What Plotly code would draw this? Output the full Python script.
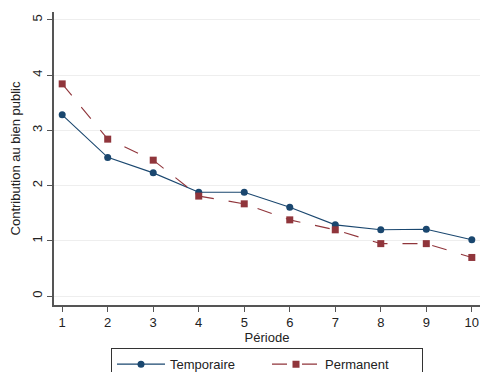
import plotly.graph_objects as go

periods = [1, 2, 3, 4, 5, 6, 7, 8, 9, 10]
temporaire = [3.28, 2.51, 2.23, 1.88, 1.88, 1.61, 1.29, 1.20, 1.21, 1.02]
permanent = [3.84, 2.84, 2.46, 1.81, 1.67, 1.38, 1.20, 0.95, 0.95, 0.70]
y_ticks = [0, 1, 2, 3, 4, 5]

navy = "#1a476f"
maroon = "#90353b"

fig = go.Figure()
fig.add_trace(go.Scatter(
    x=periods, y=temporaire, name="Temporaire", mode="lines+markers",
    line=dict(color=navy, width=1.1),
    marker=dict(symbol="circle", size=7, color=navy),
))
fig.add_trace(go.Scatter(
    x=periods, y=permanent, name="Permanent", mode="lines+markers",
    line=dict(color=maroon, width=1.1, dash="longdash"),
    marker=dict(symbol="square", size=7, color=maroon),
))

font = "Liberation Sans, Arial, sans-serif"
fig.update_layout(
    width=482, height=372,
    margin=dict(l=54, r=2, t=12, b=67, autoexpand=False),
    paper_bgcolor="white", plot_bgcolor="white",
    font=dict(family=font, size=12, color="#222"),
    showlegend=True,
    legend=dict(
        orientation="h", x=0.5, xanchor="center",
        yref="container", y=0.064, yanchor="top",
        bordercolor="#333", borderwidth=1, font=dict(size=13),
        tracegroupgap=0, itemwidth=48,
        entrywidth=92, entrywidthmode="pixels",
    ),
    xaxis=dict(
        range=[0.82, 10.18], tickvals=periods, ticks="outside", ticklen=5,
        tickcolor="#555", showline=True, linecolor="#555", linewidth=1.5,
        showgrid=False, zeroline=False, tickfont=dict(size=13),
        title=dict(text="Période", font=dict(size=13), standoff=4),
    ),
    yaxis=dict(
        range=[-0.16, 5.14], tickvals=y_ticks, ticks="outside", ticklen=5,
        tickcolor="#555", showline=True, linecolor="#555", linewidth=1.5,
        showgrid=True, gridcolor="#eeeeee", gridwidth=1, zeroline=False,
        tickangle=-90, tickfont=dict(size=13),
        title=dict(text="Contribution au bien public", font=dict(size=13), standoff=6),
    ),
)

fig.write_html("out.html", config={"displayModeBar": False},
               post_script="document.body.style.margin='0';")
